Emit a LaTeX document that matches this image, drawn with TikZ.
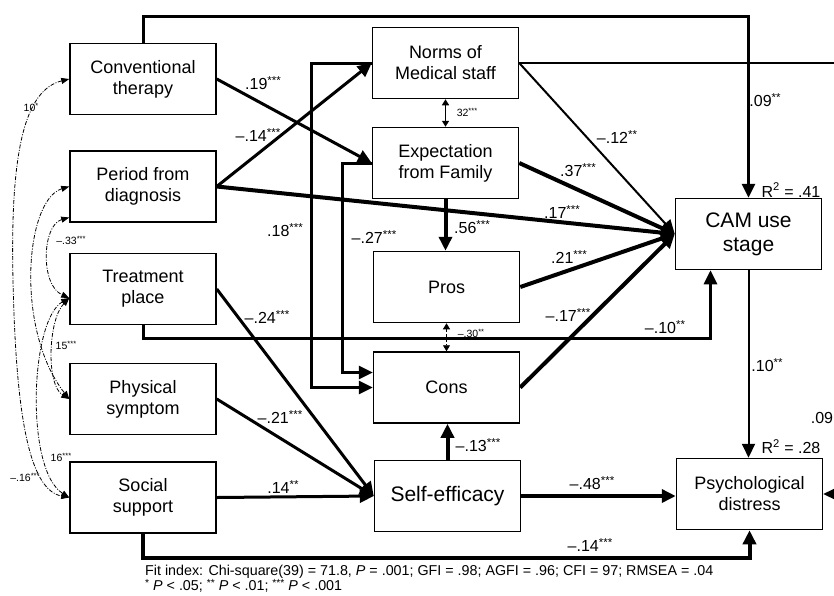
\documentclass[tikz,border=0pt]{standalone}
\usepackage{fontspec}
\setmainfont{Liberation Sans}
\usetikzlibrary{arrows.meta}
\newcommand{\sig}[1]{\raisebox{0.28em}{\scalebox{0.72}{#1}}}
\tikzset{
  varbox/.style  ={rectangle, draw=black, line width=1.5pt, minimum width=146pt,
                   minimum height=71pt, inner sep=2pt, align=center,
                   font=\fontsize{18}{21}\selectfont},
  keybox/.style  ={varbox, font=\fontsize{21}{24}\selectfont},
  effthin/.style ={-{Triangle[length=14pt,width=13pt]}, line width=2pt},
  effmid/.style  ={effthin, line width=3pt},
  effthick/.style={effthin, line width=4pt},
  covar/.style   ={{Triangle[length=6pt,width=7pt]}-{Triangle[length=6pt,width=7pt]},
                   line width=1.6pt},
  covdash/.style ={covar, line width=0.9pt, densely dashed},
  corr/.style    ={{Triangle[length=8pt,width=6pt]}-{Triangle[length=8pt,width=6pt]},
                   line width=0.8pt, dash pattern=on 4pt off 1.5pt on 1pt off 1.5pt},
  coef/.style    ={font=\fontsize{16}{18}\selectfont, inner sep=0pt},
  smallcoef/.style={font=\fontsize{10.5}{11}\selectfont, inner sep=0pt},
  note/.style    ={font=\fontsize{14.3}{13}\selectfont, inner sep=0pt, align=left}
}

\begin{document}
\begin{tikzpicture}[x=1pt, y=-1pt]
  \useasboundingbox (0,0) rectangle (834,595);
  % ---------------- Exogenous variables ----------------
  \node[varbox] (conv)   at (143,79)    {Conventional\\therapy};
  \node[varbox] (period) at (143,186.5) {Period from\\diagnosis};
  \node[varbox] (treat)  at (143,289)   {Treatment\\place};
  \node[varbox] (phys)   at (143,399)   {Physical\\symptom};
  \node[varbox] (social) at (143,497.5) {Social\\support};

  % ---------------- Mediators ----------------
  \node[varbox] (norms)   at (445.5,63)    {Norms of\\Medical staff};
  \node[varbox] (expect)  at (445.5,163)   {Expectation\\from Family};
  \node[varbox] (pros)    at (446.5,287)   {Pros};
  \node[varbox] (cons)    at (446.5,387.5) {Cons};
  \node[keybox] (selfeff) at (447.5,496)   {Self-efficacy};

  % ---------------- Outcomes ----------------
  \node[keybox] (cam)   at (748.5,234) {CAM use\\stage};
  \node[varbox] (psych) at (749.5,494) {Psychological\\distress};

  % ---------------- Paths to the mediators ----------------
  \draw[effmid] (conv.east)   -- (expect.west);
  \draw[effmid] (period.east) -- (norms.west);
  \draw[effmid] (norms.west)  -- ++(-60,0) |- (cons.west);
  \draw[effmid] (expect.west) -- ++(-29,0) |- ([yshift=15pt]cons.west);
  \draw[effthick] (expect.south) -- (expect.south |- pros.north);
  \draw[covar] (norms.south) -- (norms.south |- expect.north);
  \draw[covdash] (pros.south) -- (cons.north);
  \node[coef] (c19)  at (263,83)  {.19\sig{***}};
  \node[coef] (c14a) at (258,135) {--.14\sig{***}};
  \node[coef] (c18)  at (285,230) {.18\sig{***}};
  \node[coef] (c27)  at (374,237) {--.27\sig{***}};
  \node[coef] (c56)  at (472,227) {.56\sig{***}};
  \node[smallcoef] (c32) at (467,112) {32\sig{***}};
  \node[smallcoef] (c30) at (471,333) {--.30\sig{**}};

  % ---------------- Paths to CAM use stage ----------------
  \draw[effmid] (conv.north) -- ++(0,-26) -| (cam.north);
  \draw[effthick] (period.east) -- (cam.west);
  \draw[effthin] (norms.east)  -- (cam.west);
  \draw[effthick] (expect.east) -- (cam.west);
  \draw[effthick] (pros.east)   -- (cam.west);
  \draw[effthick] (cons.east)   -- (cam.west);
  \draw[effmid] (treat.south) -- ++(0,13) -| ([xshift=-38pt]cam.south);
  \node[coef] (c17a) at (562,212) {.17\sig{***}};
  \node[coef] (c12)  at (617,137) {--.12\sig{**}};
  \node[coef] (c37)  at (578,170) {.37\sig{***}};
  \node[coef] (c21a) at (569,257) {.21\sig{***}};
  \node[coef] (c17b) at (568,315) {--.17\sig{***}};
  \node[coef] (c10a) at (665,327) {--.10\sig{**}};
  \node[coef] (c09a) at (765,100) {.09\sig{**}};
  \node[coef] (r41)  at (791,190) {R\textsuperscript{2} = .41};

  % ---------------- Paths to self-efficacy and distress ----------------
  \draw[effmid] (treat.east)  -- (selfeff.west);
  \draw[effmid] (phys.east)   -- (selfeff.west);
  \draw[effmid] (social.east) -- (selfeff.west);
  \draw[effthick] (selfeff.north) -- (selfeff.north |- cons.south);
  \draw[effthick] (selfeff.east)  -- (selfeff.east -| psych.west);
  \draw[effthin] (cam.south) -- (cam.south |- psych.north);
  \draw[effthick] (social.south) -- ++(0,24) -| (psych.south);
  % norms run off the right edge and come back into distress
  \draw[effthin] (norms.east) -- ++(350,0) |- (psych.east);
  \node[coef] (c24)  at (267,317) {--.24\sig{***}};
  \node[coef] (c21b) at (280,417) {--.21\sig{***}};
  \node[coef] (c14c) at (283,487) {.14\sig{**}};
  \node[coef] (c13)  at (478,445) {--.13\sig{***}};
  \node[coef] (c48)  at (592,483) {--.48\sig{***}};
  \node[coef] (c14b) at (590,545) {--.14\sig{***}};
  \node[coef] (c10b) at (767,365) {.10\sig{**}};
  \node[coef] (r28)  at (791,447) {R\textsuperscript{2} = .28};
  \node[coef] (c09b) at (822,418) {.09};

  % ---------------- Correlations among exogenous variables ----------------
  \draw[corr] (conv.west) .. controls (25,90) and (10,150) .. (13,280)
                          .. controls (16,420) and (30,490) .. (social.west);
  \draw[corr] (period.west) .. controls (25,200) and (15,330) .. (phys.west);
  \draw[corr] ([yshift=-31pt]period.west) .. controls (42,225) and (40,285)
              .. ([yshift=-9pt]treat.west);
  \draw[corr] ([yshift=-9pt]treat.west) .. controls (48,320) and (46,385) .. (phys.west);
  \draw[corr] ([yshift=-9pt]treat.west) .. controls (30,320) and (25,470) .. (social.west);
  \node[smallcoef] (r10)  at (31,107) {10\sig{*}};
  \node[smallcoef] (r33)  at (71,240) {--.33\sig{***}};
  \node[smallcoef] (r15)  at (66,345) {15\sig{***}};
  \node[smallcoef] (r16)  at (61,457) {16\sig{***}};
  \node[smallcoef] (rm16) at (25,477) {--.16\sig{***}};

  % ---------------- Fit note ----------------
  \node[note, anchor=north west] (fit) at (145,565)
    {Fit index: Chi-square(39) = 71.8, \textit{P} = .001; GFI = .98; AGFI = .96; CFI = 97; RMSEA = .04\\
     \sig{*} \textit{P} < .05; \sig{**} \textit{P} < .01; \sig{***} \textit{P} < .001};
\end{tikzpicture}
\end{document}
